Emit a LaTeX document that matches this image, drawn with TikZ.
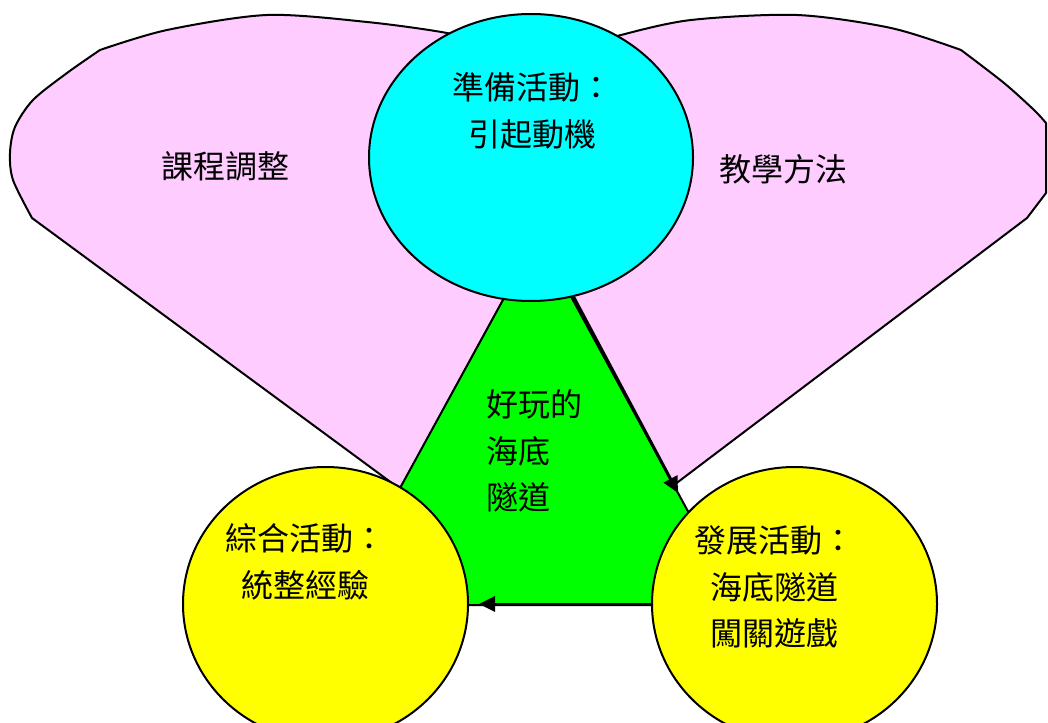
\documentclass[tikz,border=0pt]{standalone}
\usepackage{fontspec}
\newfontfamily\cjk{Noto Sans CJK TC}
\usetikzlibrary{shapes.geometric,arrows.meta}
\definecolor{pinkc}{HTML}{FFCCFF}
\definecolor{cyanc}{HTML}{00FFFF}
\definecolor{greenc}{HTML}{00FF00}
\definecolor{yellowc}{HTML}{FFFF00}
\begin{document}
\begin{tikzpicture}[x=1pt,y=-1pt,
  outl/.style={draw=black,line width=2pt,line join=round},
  oval/.style={ellipse,outl,inner sep=0pt},
  lbl/.style={font={\cjk\fontsize{32}{46.5}\selectfont},inner sep=0pt,align=center},
  arr/.style={-{Triangle[length=16pt,width=15pt]},line width=3pt}]
\useasboundingbox (0,0) rectangle (1048,722);
\fill[white] (0,0) rectangle (1048,722);
% pink petals
\draw[outl,fill=pinkc] (538,236) -- (400,489) -- (32,218)
  -- plot[smooth,tension=0.5] coordinates {(32,218) (13,180) (10,153) (15,127) (33,100) (67,73) (100,50)}
  -- plot[smooth,tension=0.5] coordinates {(100,50) (167,30) (267,15) (367,22) (447,33) (490,45)} -- cycle;
\draw[outl,fill=pinkc] (538,236) -- (674,485) -- (1027,218) -- (1046,193) -- (1046,123)
  -- plot[smooth,tension=0.5] coordinates {(1046,123) (1034,110) (1004,83) (961,50)}
  -- plot[smooth,tension=0.5] coordinates {(961,50) (891,28) (797,15) (691,20) (621,35) (580,48)} -- cycle;
% green triangle
\draw[outl,fill=greenc] (538,236) -- (739,605) -- (336,605) -- cycle;
% ovals
\node[oval,fill=cyanc,minimum width=324pt,minimum height=287pt] (prep) at (531,157.5) {};
\node[oval,fill=yellowc,minimum width=285pt,minimum height=274pt] (integ) at (325.5,604) {};
\node[oval,fill=yellowc,minimum width=285pt,minimum height=274pt] (devel) at (794.5,604) {};
% labels
\node[lbl] (t1) at (225,166) {課程調整};
\node[lbl] (t2) at (783,169) {教學方法};
\node[lbl] (t3) at (532,111) {準備活動：\\引起動機};
\node[lbl,align=left,anchor=west] (t4) at (486,451) {好玩的\\海底\\隧道};
\node[lbl] (t5) at (305,562) {綜合活動：\\統整經驗};
\node[lbl] (t6) at (774,587) {發展活動：\\海底隧道\\闖關遊戲};
% arrows
\coordinate (tip) at (678,493);
\draw[arr] (prep.-73.4) -- (tip);
\draw[arr,shorten >=10pt] (devel.west) -- (integ.east);
\end{tikzpicture}
\end{document}
